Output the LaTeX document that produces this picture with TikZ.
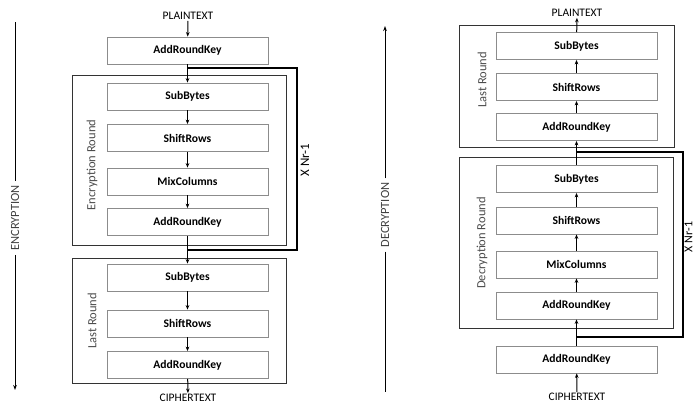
\documentclass[tikz,border=0pt]{standalone}
\usepackage{fontspec}
\setmainfont{Carlito}
\usetikzlibrary{arrows.meta}
\begin{document}
\begin{tikzpicture}[x=1pt,y=-1pt,
  stepbox/.style={draw=black!45,line width=0.8pt,minimum width=161pt,minimum height=27pt,inner sep=0pt,font=\fontsize{11.6}{12}\selectfont\bfseries},
  framebox/.style={draw=black!80,line width=0.8pt},
  flow/.style={line width=1pt,-{Stealth[length=4.5pt,width=3.6pt]}},
  loopline/.style={line width=1.8pt,line join=miter},
  roundlbl/.style={rotate=90,text=black!70,font=\fontsize{12.5}{13}\selectfont},
  endlbl/.style={font=\fontsize{11.5}{12}\selectfont,inner sep=1pt},
  axislbl/.style={rotate=90,text=black!75,font=\fontsize{12.5}{13}\selectfont,inner xsep=4pt,inner ysep=0pt},
  axisline/.style={line width=0.9pt}]
\useasboundingbox (0,0) rectangle (694,405);

% ---------------- Encryption ----------------
\node[endlbl] (ptE) at (188,16) {PLAINTEXT};
\node[stepbox] (e0) at (187.5,50.5) {AddRoundKey};
\draw[framebox] (72,75) rectangle (286,245);
\node[stepbox] (e1) at (187.5,96.5) {SubBytes};
\node[stepbox] (e2) at (187.5,138) {ShiftRows};
\node[stepbox] (e3) at (187.5,181.5) {MixColumns};
\node[stepbox] (e4) at (187.5,222) {AddRoundKey};
\draw[framebox] (72,258) rectangle (286,383);
\node[stepbox] (e5) at (187.5,277.5) {SubBytes};
\node[stepbox] (e6) at (187.5,323.5) {ShiftRows};
\node[stepbox] (e7) at (187.5,365) {AddRoundKey};
\node[endlbl] (ctE) at (188,398) {CIPHERTEXT};

\coordinate (eL1) at (187.5,68);
\coordinate (eL2) at (297,68);
\coordinate (eL3) at (297,250);
\coordinate (eL4) at (187.5,250);
\draw[loopline] (eL1) -- (eL2) -- (eL3) -- (eL4);

\draw[flow] (ptE) -- (e0);
\draw[flow] (e0) -- (e1);
\draw[flow] (e1) -- (e2);
\draw[flow] (e2) -- (e3);
\draw[flow] (e3) -- (e4);
\draw[flow] (e4) -- (e5);
\draw[flow] (e5) -- (e6);
\draw[flow] (e6) -- (e7);
\draw[flow] (e7) -- (ctE);

\node[roundlbl] (encR) at (92,165) {Encryption Round};
\node[roundlbl] (lastE) at (92,321) {Last Round};
\node[roundlbl,text=black,font=\fontsize{13}{14}\selectfont] (xE) at (305,160) {X Nr-1};

\node[axislbl] (encA) at (15,218) {ENCRYPTION};
\coordinate (eA1) at (15,22);
\coordinate (eA2) at (15,390);
\draw[axisline] (eA1) -- (encA.east);
\draw[axisline,-{Stealth[length=5pt,width=3.6pt]}] (encA.west) -- (eA2);

% ---------------- Decryption ----------------
\node[endlbl] (ptD) at (577,13) {PLAINTEXT};
\draw[framebox] (459,25) rectangle (674,147);
\node[stepbox] (d1) at (576.5,46) {SubBytes};
\node[stepbox] (d2) at (576.5,87) {ShiftRows};
\node[stepbox] (d3) at (576.5,127) {AddRoundKey};
\draw[framebox] (459,157) rectangle (673,328);
\node[stepbox] (d4) at (576.5,179) {SubBytes};
\node[stepbox] (d5) at (576.5,220.5) {ShiftRows};
\node[stepbox] (d6) at (576.5,264.5) {MixColumns};
\node[stepbox] (d7) at (576.5,305.5) {AddRoundKey};
\node[stepbox] (d8) at (576.5,359.5) {AddRoundKey};
\node[endlbl] (ctD) at (577,397) {CIPHERTEXT};

\coordinate (dL1) at (576.5,152);
\coordinate (dL2) at (683,152);
\coordinate (dL3) at (683,337);
\coordinate (dL4) at (576.5,337);
\draw[loopline] (dL1) -- (dL2) -- (dL3) -- (dL4);

\draw[flow] (ctD) -- (d8);
\draw[flow] (d8) -- (d7);
\draw[flow] (d7) -- (d6);
\draw[flow] (d6) -- (d5);
\draw[flow] (d5) -- (d4);
\draw[flow] (d4) -- (d3);
\draw[flow] (d3) -- (d2);
\draw[flow] (d2) -- (d1);
\draw[flow] (d1) -- (ptD);

\node[roundlbl] (lastD) at (482,80) {Last Round};
\node[roundlbl] (decR) at (482,243) {Decryption Round};
\node[roundlbl,text=black,font=\fontsize{12}{13}\selectfont,inner sep=0pt] (xD) at (688.5,237) {X Nr-1};

\node[axislbl] (decA) at (385,215) {DECRYPTION};
\coordinate (dA1) at (385,26);
\coordinate (dA2) at (385,392);
\draw[axisline,-{Stealth[length=5pt,width=3.6pt]}] (decA.east) -- (dA1);
\draw[axisline] (decA.west) -- (dA2);
\end{tikzpicture}
\end{document}
